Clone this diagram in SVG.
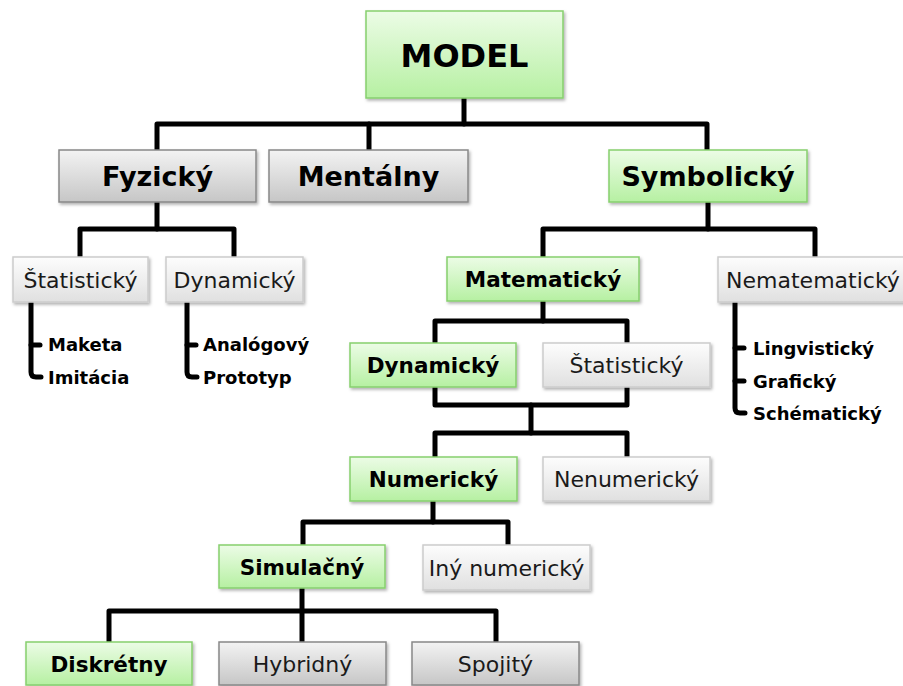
<svg xmlns="http://www.w3.org/2000/svg" width="903" height="686" viewBox="0 0 903 686">
  <defs>
    <linearGradient id="gGreen" x1="0" y1="0" x2="0" y2="1">
      <stop offset="0" stop-color="#ecfce6"/>
      <stop offset="1" stop-color="#b6f0a2"/>
    </linearGradient>
    <linearGradient id="gGray" x1="0" y1="0" x2="0" y2="1">
      <stop offset="0" stop-color="#f3f3f3"/>
      <stop offset="1" stop-color="#c6c6c6"/>
    </linearGradient>
    <linearGradient id="gLight" x1="0" y1="0" x2="0" y2="1">
      <stop offset="0" stop-color="#fdfdfd"/>
      <stop offset="1" stop-color="#e0e0e0"/>
    </linearGradient>
    <filter id="shadow" x="-10%" y="-10%" width="130%" height="140%">
      <feDropShadow dx="1.5" dy="2" stdDeviation="1.5" flood-color="#000" flood-opacity="0.3"/>
    </filter>
  </defs>
  <style>
    .green { fill: url(#gGreen); stroke: #86cf6e; stroke-width: 1.5; filter: url(#shadow); }
    .gray { fill: url(#gGray); stroke: #888888; stroke-width: 1.5; filter: url(#shadow); }
    .light { fill: url(#gLight); stroke: #cccccc; stroke-width: 1.5; filter: url(#shadow); }
    .b { font-family: "DejaVu Sans", Verdana, sans-serif; font-weight: bold; fill: #000; text-anchor: middle; }
    .r { font-family: "DejaVu Sans", Verdana, sans-serif; fill: #1a1a1a; text-anchor: middle; font-size: 22px; }
    .item { font-family: "DejaVu Sans", Verdana, sans-serif; font-weight: bold; fill: #000; font-size: 18px; }
    .lvl1 { font-size: 27px; }
    .lvl2 { font-size: 21.5px; }
    .wire { fill: none; stroke: #000; stroke-width: 5; stroke-linejoin: round; stroke-linecap: round; }
  </style>

  <!-- connectors -->
  <g id="connectors" class="wire">
    <path d="M464,98 V124"/>
    <path d="M157,150 V124 H707 V150"/>
    <path d="M369,124 V150"/>

    <path d="M157,202 V229"/>
    <path d="M80,257 V229 H234 V257"/>
    <path d="M31,302 V372 Q31,377 36,377 H41"/>
    <path d="M31,345 H40"/>
    <path d="M187,302 V372 Q187,377 192,377 H197"/>
    <path d="M187,345 H196"/>

    <path d="M708,202 V229"/>
    <path d="M543,257 V229 H815 V257"/>
    <path d="M735,302 V408 Q735,413 740,413 H745"/>
    <path d="M735,348 H744"/>
    <path d="M735,381 H744"/>

    <path d="M543,301 V321"/>
    <path d="M435,343 V321 H627 V343"/>
    <path d="M435,387 V405 H627 V387"/>
    <path d="M531,405 V433"/>
    <path d="M435,457 V433 H627 V457"/>

    <path d="M433,501 V522"/>
    <path d="M303,545 V522 H508 V545"/>

    <path d="M302,588 V611"/>
    <path d="M109,642 V611 H496 V642"/>
    <path d="M302,611 V642"/>
  </g>

  <!-- root -->
  <g id="model">
    <rect class="green" x="366" y="11" width="197" height="87"/>
    <text class="b" x="464.5" y="66.5" font-size="32">MODEL</text>
  </g>

  <!-- first level -->
  <g id="fyzicky">
    <rect class="gray" x="59" y="150" width="197" height="52"/>
    <text class="b lvl1" x="157.5" y="186">Fyzický</text>
  </g>
  <g id="mentalny">
    <rect class="gray" x="269" y="150" width="199" height="52"/>
    <text class="b lvl1" x="368.5" y="186">Mentálny</text>
  </g>
  <g id="symbolicky">
    <rect class="green" x="609" y="150" width="198" height="52"/>
    <text class="b lvl1" x="708" y="186">Symbolický</text>
  </g>

  <!-- physical branch -->
  <g id="fyz-staticky">
    <rect class="light" x="13" y="257" width="135" height="45"/>
    <text class="r" x="80.5" y="287.5">Štatistický</text>
  </g>
  <g id="fyz-dynamicky">
    <rect class="light" x="166" y="257" width="137" height="45"/>
    <text class="r" x="234.5" y="287.5">Dynamický</text>
  </g>
  <g id="fyz-staticky-items">
    <text class="item" x="48" y="350.5">Maketa</text>
    <text class="item" x="48" y="383.5">Imitácia</text>
  </g>
  <g id="fyz-dynamicky-items">
    <text class="item" x="203" y="350.5">Analógový</text>
    <text class="item" x="203" y="383.5">Prototyp</text>
  </g>

  <!-- symbolic branch -->
  <g id="matematicky">
    <rect class="green" x="447" y="257" width="192" height="44"/>
    <text class="b lvl2" x="543" y="287">Matematický</text>
  </g>
  <g id="nematematicky">
    <rect class="light" x="718" y="257" width="190" height="45"/>
    <text class="r" x="813" y="287.5">Nematematický</text>
  </g>
  <g id="nematematicky-items">
    <text class="item" x="753" y="354.5">Lingvistický</text>
    <text class="item" x="753" y="387.5">Grafický</text>
    <text class="item" x="753" y="419.5">Schématický</text>
  </g>

  <g id="mat-dynamicky">
    <rect class="green" x="350" y="343" width="166" height="44"/>
    <text class="b lvl2" x="433" y="373">Dynamický</text>
  </g>
  <g id="mat-staticky">
    <rect class="light" x="543" y="343" width="167" height="44"/>
    <text class="r" x="626.5" y="373">Štatistický</text>
  </g>

  <g id="numericky">
    <rect class="green" x="350" y="457" width="167" height="44"/>
    <text class="b lvl2" x="433.5" y="487">Numerický</text>
  </g>
  <g id="nenumericky">
    <rect class="light" x="543" y="457" width="167" height="44"/>
    <text class="r" x="626.5" y="487">Nenumerický</text>
  </g>

  <g id="simulacny">
    <rect class="green" x="219" y="545" width="166" height="43"/>
    <text class="b lvl2" x="302" y="574.5">Simulačný</text>
  </g>
  <g id="iny-numericky">
    <rect class="light" x="423" y="545" width="167" height="45"/>
    <text class="r" x="506.5" y="575.5">Iný numerický</text>
  </g>

  <g id="diskretny">
    <rect class="green" x="26" y="642" width="166" height="43"/>
    <text class="b lvl2" x="109" y="671.5">Diskrétny</text>
  </g>
  <g id="hybridny">
    <rect class="gray" x="219" y="642" width="167" height="43"/>
    <text class="r" x="302.5" y="671.5">Hybridný</text>
  </g>
  <g id="spojity">
    <rect class="gray" x="412" y="642" width="167" height="43"/>
    <text class="r" x="495.5" y="671.5">Spojitý</text>
  </g>
</svg>
